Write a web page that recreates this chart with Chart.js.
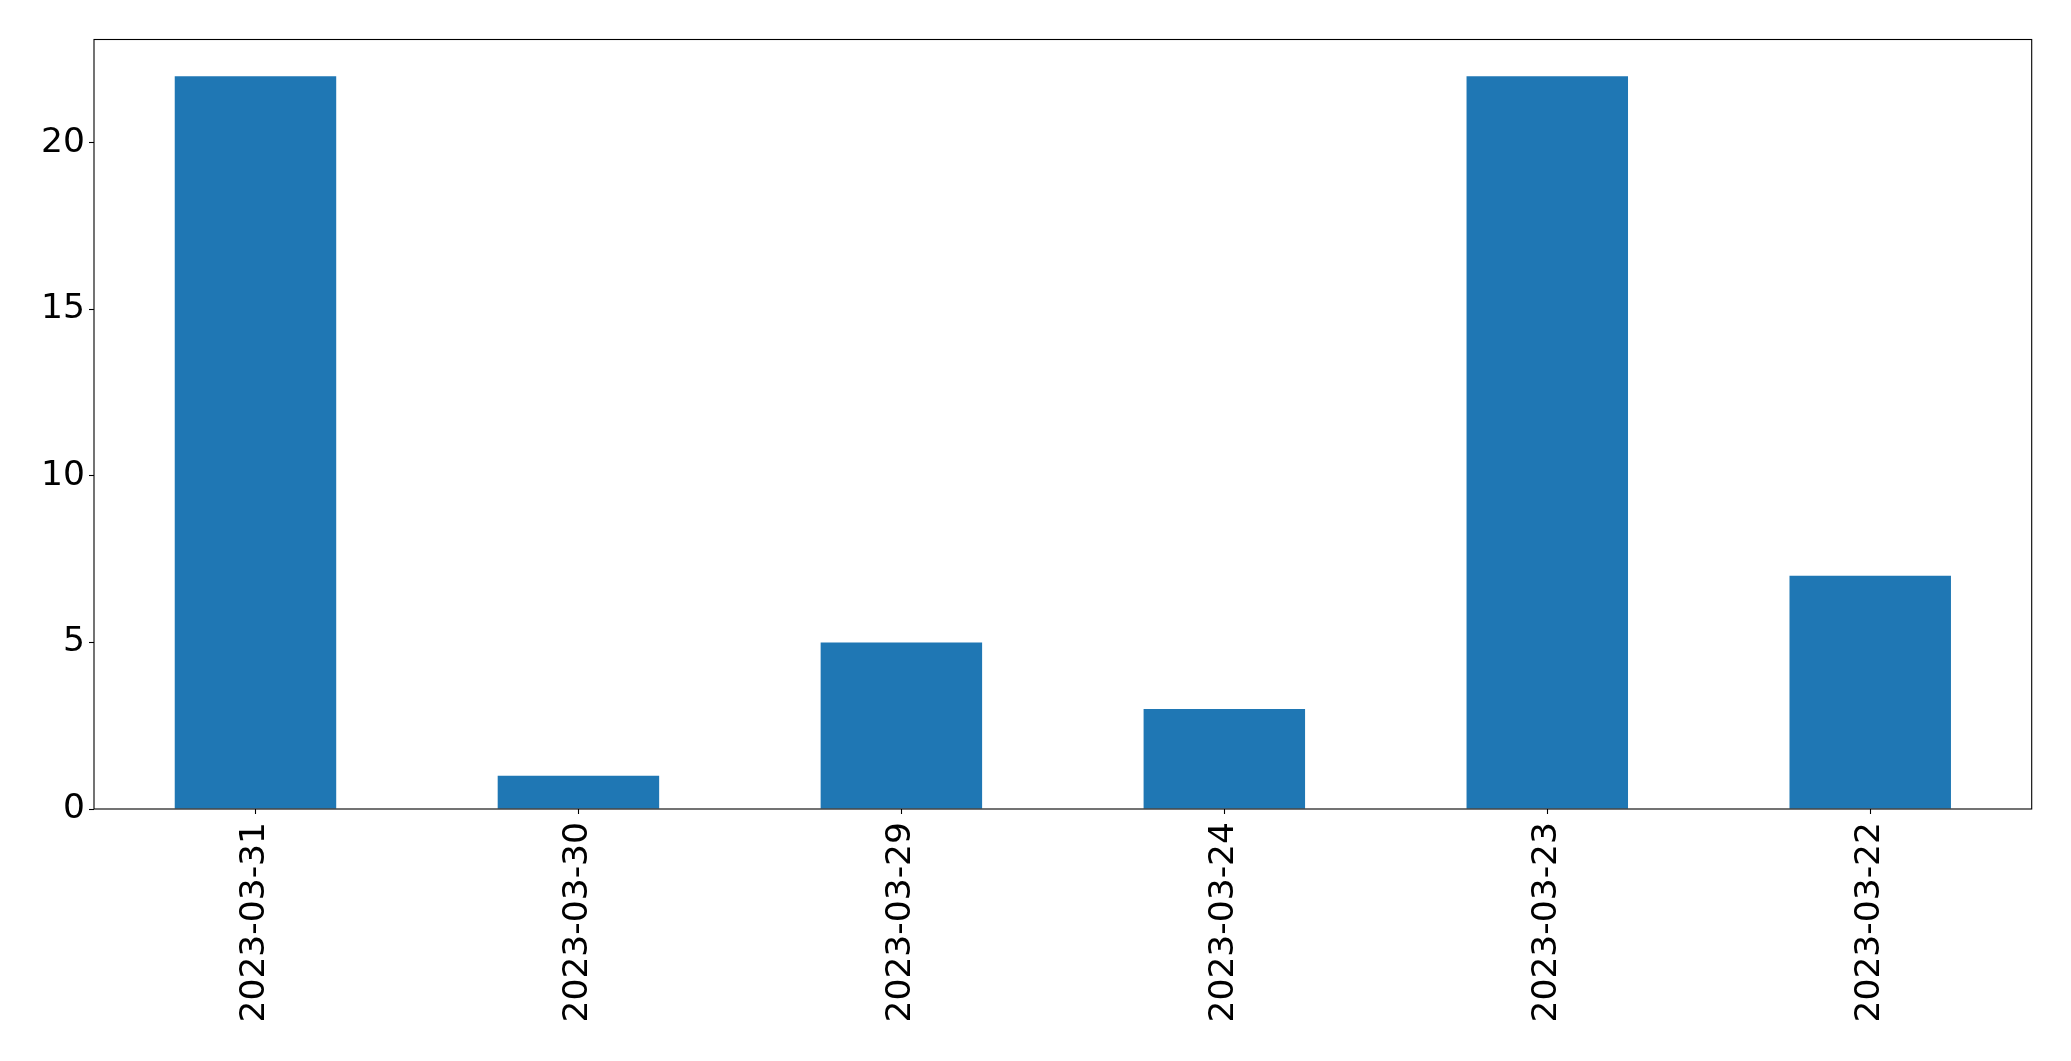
<!DOCTYPE html>
<html>
<head>
<meta charset="utf-8">
<script src="https://cdn.jsdelivr.net/npm/chart.js@4.4.0/dist/chart.umd.min.js"></script>
<style>
  html, body { margin: 0; padding: 0; background: #ffffff; }
  canvas { display: block; }
</style>
</head>
<body>
<canvas id="grafico" width="2071" height="1061"></canvas>
<script>
// dados
var datas = ['2023-03-31', '2023-03-30', '2023-03-29', '2023-03-24', '2023-03-23', '2023-03-22'];
var contagem = [22, 1, 5, 3, 22, 7];
var yTicks = [0, 5, 10, 15, 20];
var yMax = 23.1;

// moldura do eixo, igual ao matplotlib
var moldura = {
    id: 'moldura',
    afterDraw: function (chart) {
        var a = chart.chartArea;
        var ctx = chart.ctx;
        ctx.save();
        ctx.strokeStyle = '#000000';
        ctx.lineWidth = 1.1;
        ctx.strokeRect(a.left, a.top, a.right - a.left, a.bottom - a.top);
        ctx.restore();
    }
};

var fonte = { family: 'DejaVu Sans', size: 34.5 };

new Chart(document.getElementById('grafico'), {
    type: 'bar',
    data: {
        labels: datas,
        datasets: [{
            data: contagem,
            backgroundColor: '#1f77b4',
            borderWidth: 0,
            barPercentage: 0.5,
            categoryPercentage: 1.0
        }]
    },
    options: {
        responsive: false,
        animation: false,
        layout: { padding: { top: 39.5, right: 39.3, left: 0, bottom: 0 } },
        plugins: {
            legend: { display: false },
            tooltip: { enabled: false }
        },
        scales: {
            x: {
                grid: { display: true, offset: false, drawOnChartArea: false, color: '#000000', tickLength: 5, tickWidth: 1.1 },
                border: { display: false },
                ticks: { color: '#000000', font: fonte, minRotation: 90, maxRotation: 90, padding: 8, autoSkip: false },
                afterFit: function (s) { s.height = 1061 - 809; }
            },
            y: {
                min: 0,
                max: yMax,
                grid: { display: true, drawOnChartArea: false, color: '#000000', tickLength: 5, tickWidth: 1.1 },
                border: { display: false },
                ticks: { color: '#000000', font: fonte, padding: 4 },
                afterBuildTicks: function (s) {
                    s.ticks = yTicks.map(function (v) { return { value: v }; });
                },
                afterFit: function (s) { s.width = 94; }
            }
        }
    },
    plugins: [moldura]
});
</script>
</body>
</html>
